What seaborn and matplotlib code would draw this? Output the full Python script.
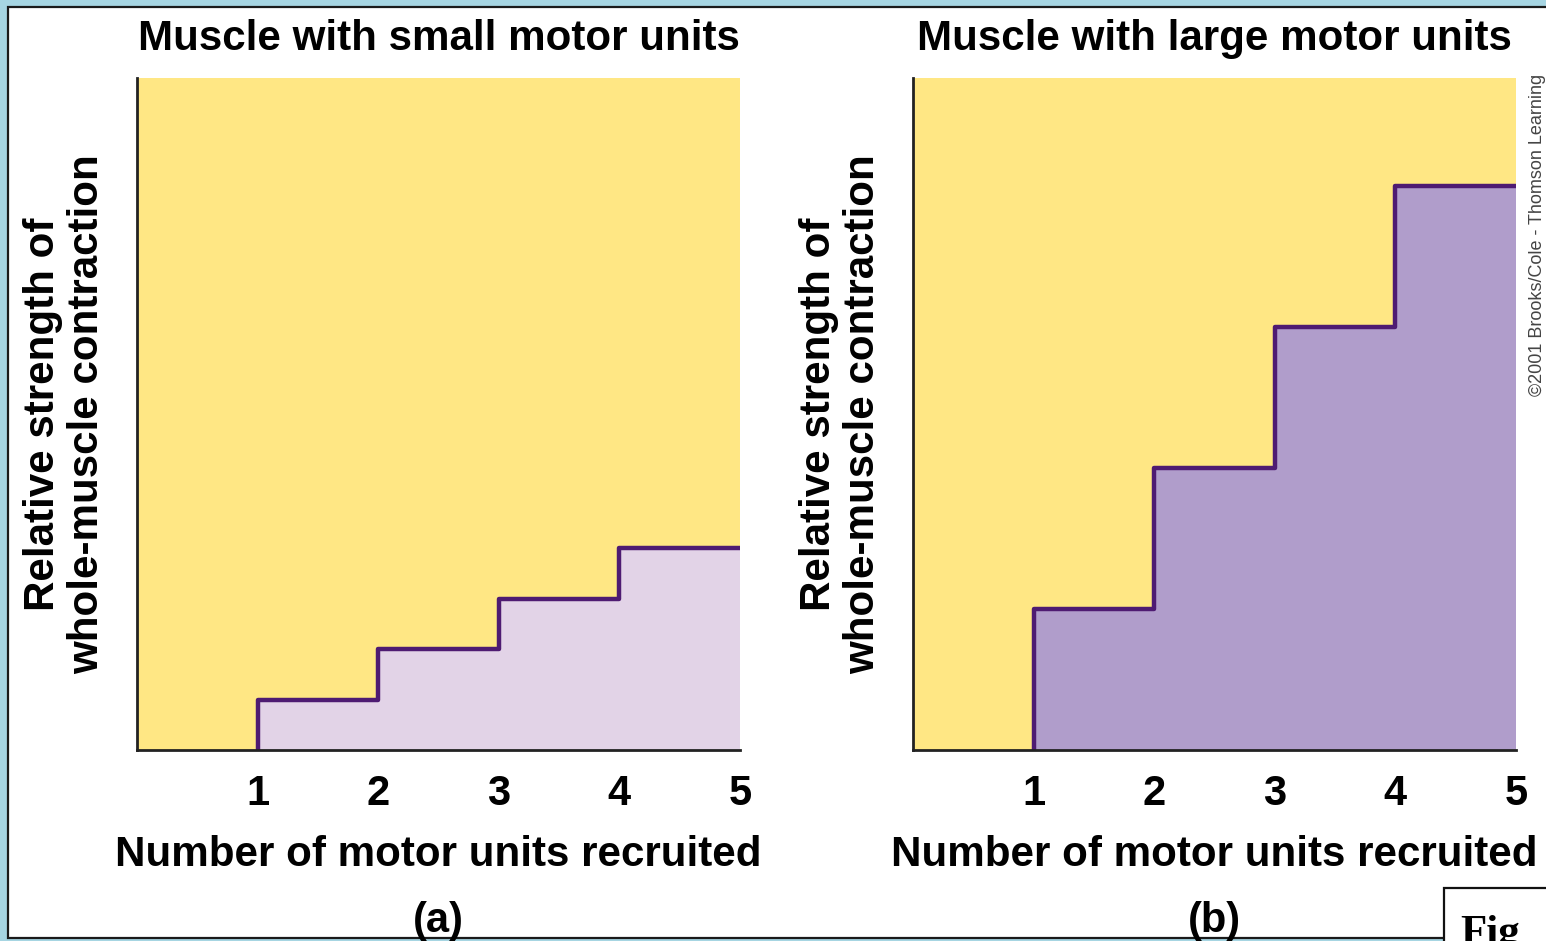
import numpy as np
import matplotlib
matplotlib.use("Agg")
import matplotlib.pyplot as plt
import matplotlib.patches as mpatches
import seaborn as sns

# ── Data ──────────────────────────────────────────────────────────────────────
units_recruited = [1, 2, 3, 4, 5]          # step edges on the x axis
strength_small = [7.5, 15, 22.5, 30]        # level after each recruited unit
strength_large = [21, 42, 63, 84]
panel_titles = ["Muscle with small motor units", "Muscle with large motor units"]
panel_tags = ["(a)", "(b)"]
x_label = "Number of motor units recruited"
y_label = "Relative strength of\nwhole-muscle contraction"
credit = "\u00a92001 Brooks/Cole - Thomson Learning"

YELLOW = "#FFE784"
LINE = "#4E1B72"
FILLS = ["#E2D3E7", "#B09DCB"]
BORDER_BLUE = "#A6D5E2"

sns.set_theme(style="white")
plt.rcParams.update({
    "font.family": ["Liberation Sans", "DejaVu Sans"],
    "font.weight": "bold",
    "axes.labelweight": "bold",
    "axes.titleweight": "bold",
})

fig = plt.figure(figsize=(15.46, 9.41), dpi=100)
fig.patch.set_facecolor(BORDER_BLUE)
W, H = 1546, 941

# white page with a thin dark frame
page = mpatches.Rectangle((8 / W, 1 - 938 / H), 1.0, (938 - 7) / H,
                          transform=fig.transFigure, facecolor="white",
                          edgecolor="#1a1a1a", linewidth=1.6, zorder=-2)
fig.add_artist(page)

axes_px = [(137, 740), (913, 1516)]
top_px, bottom_px = 78, 750


def step_panel(ax, levels, fill, title, tag):
    edges = np.array(units_recruited, dtype=float)
    lv = np.array(levels, dtype=float)
    xs = np.repeat(edges, 2)[:-1]
    ys = np.concatenate([[0], np.repeat(lv, 2)])
    ax.fill_between(edges, np.append(lv, lv[-1]), step="post",
                    color=fill, linewidth=0, zorder=1)
    sns.lineplot(x=xs, y=ys, sort=False, estimator=None, ax=ax,
                 color=LINE, linewidth=3.2, zorder=3)

    ax.set_facecolor(YELLOW)
    ax.set_xlim(0, 5)
    ax.set_ylim(0, 100)
    for side in ["top", "right"]:
        ax.spines[side].set_visible(False)
    for side in ["left", "bottom"]:
        ax.spines[side].set_color("#222222")
        ax.spines[side].set_linewidth(2)
        ax.spines[side].set_zorder(4)
    ax.set_xticks(units_recruited)
    ax.set_xticklabels([str(u) for u in units_recruited])
    ax.set_yticks([])
    ax.tick_params(axis="x", direction="in", length=11, width=1.8,
                   color="#222222", pad=17, labelsize=30, labelcolor="black")
    ax.set_title(title, fontsize=30.3, pad=20, color="black")
    ax.set_xlabel(x_label, fontsize=30.3, color="black")
    ax.xaxis.set_label_coords(0.5, -0.127)
    ax.set_ylabel(y_label, fontsize=30.3, color="black", linespacing=1.12)
    ax.yaxis.set_label_coords(-0.05, 0.5)
    ax.text(0.5, -0.271, tag, transform=ax.transAxes, ha="center",
            va="baseline", fontsize=30, color="black")


for (l, r), levels, fill, title, tag in zip(axes_px, [strength_small, strength_large],
                                            FILLS, panel_titles, panel_tags):
    ax = fig.add_axes([l / W, 1 - bottom_px / H, (r - l) / W, (bottom_px - top_px) / H])
    step_panel(ax, levels, fill, title, tag)

# publisher credit on the right margin
fig.text(1537 / W, 1 - 235 / H, credit, rotation=90, ha="center", va="center",
         fontsize=13, fontweight="normal", color="#444444")

# cut-off figure caption box in the lower right corner
fig.add_artist(mpatches.Rectangle((1444 / W, -0.05), 0.2, (941 - 888) / H + 0.05,
                                  transform=fig.transFigure, facecolor="white",
                                  edgecolor="#111111", linewidth=1.6, zorder=5))
fig.text(1460 / W, 1 - 944 / H, "Fig", family="Liberation Serif", fontsize=31,
         fontweight="bold", color="black", ha="left", va="baseline", zorder=6)

fig.savefig("out.png", dpi=100, facecolor=fig.get_facecolor())
